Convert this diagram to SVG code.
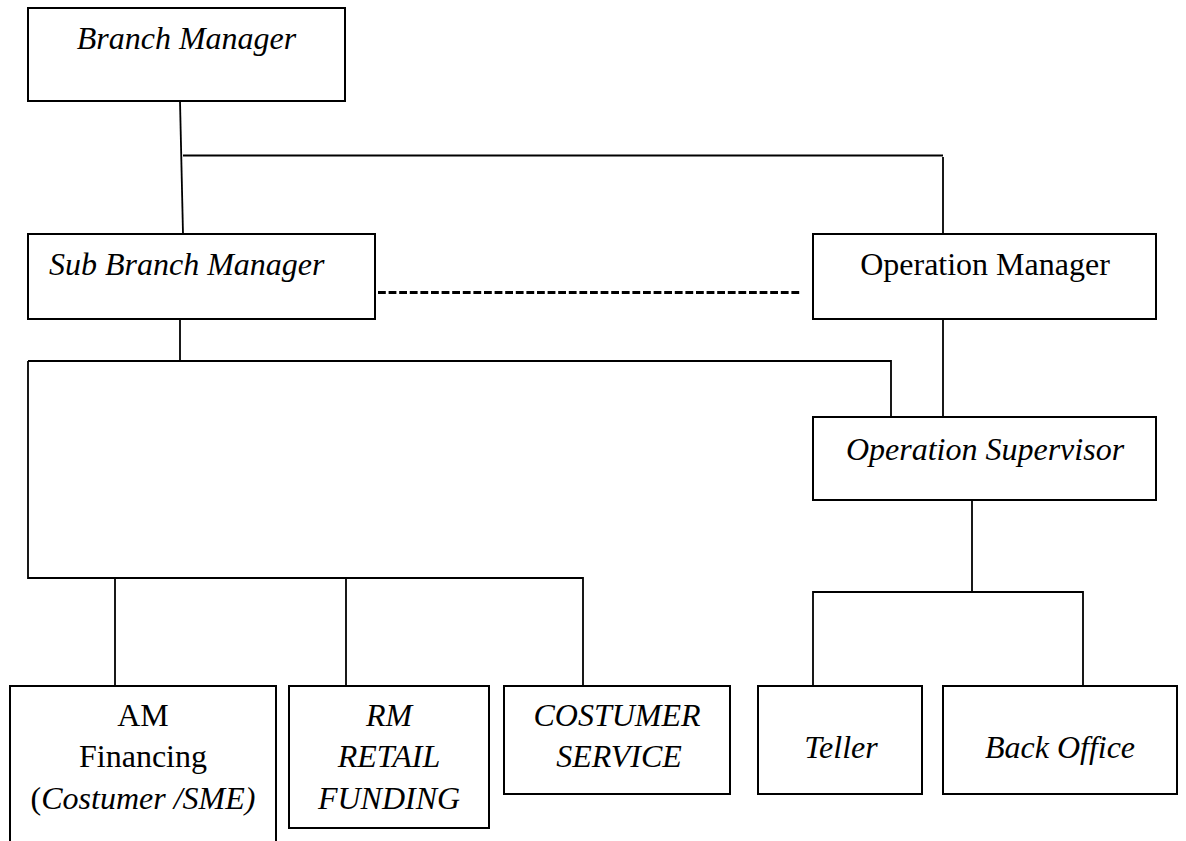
<svg xmlns="http://www.w3.org/2000/svg" width="1186" height="841" viewBox="0 0 1186 841">
<style>
.box{fill:#fff;stroke:#000;stroke-width:2}
.ln{fill:none;stroke:#000;stroke-width:1.8}
.dash{fill:none;stroke:#000;stroke-width:3;stroke-dasharray:7.8 2.8}
text{font-family:"Liberation Serif","Times New Roman",serif;font-size:32px;fill:#000}
.i{font-style:italic}
.c{text-anchor:middle}
</style>
<rect width="1186" height="841" fill="#fff"/>
<g id="connectors">
<path class="ln" d="M180,101 L183,234"/>
<path class="ln" d="M183,155.5 H943"/>
<path class="ln" d="M943,157 V234"/>
<path class="ln" d="M180,319 V361"/>
<path class="ln" d="M28,361 H891 V417"/>
<path class="ln" d="M28,361 V578 H583 V686"/>
<path class="ln" d="M115,578 V686"/>
<path class="ln" d="M346,578 V686"/>
<path class="ln" d="M943,319 V417"/>
<path class="ln" d="M972,500 V592"/>
<path class="ln" d="M813,686 V592 H1083 V686"/>
<path class="dash" d="M378,292.5 H802"/>
</g>
<g id="branch-manager">
<rect class="box" x="28" y="8" width="317" height="93"/>
<text class="i c" x="186.5" y="49">Branch Manager</text>
</g>
<g id="sub-branch-manager">
<rect class="box" x="28" y="234" width="347" height="85"/>
<text class="i" x="49" y="275">Sub Branch Manager</text>
</g>
<g id="operation-manager">
<rect class="box" x="813" y="234" width="343" height="85"/>
<text class="c" x="985" y="275">Operation Manager</text>
</g>
<g id="operation-supervisor">
<rect class="box" x="813" y="417" width="343" height="83"/>
<text class="i c" x="985" y="460">Operation Supervisor</text>
</g>
<g id="am-financing">
<rect class="box" x="10" y="686" width="266" height="170"/>
<text class="c" x="143" y="726">AM</text>
<text class="c" x="143" y="767">Financing</text>
<text class="c" x="143" y="809">(<tspan class="i">Costumer /SME)</tspan></text>
</g>
<g id="rm-retail-funding">
<rect class="box" x="289" y="686" width="200" height="142"/>
<text class="i c" x="389" y="726">RM</text>
<text class="i c" x="389" y="767">RETAIL</text>
<text class="i c" x="389" y="809">FUNDING</text>
</g>
<g id="costumer-service">
<rect class="box" x="504" y="686" width="226" height="108"/>
<text class="i c" x="617" y="726">COSTUMER</text>
<text class="i c" x="619" y="767">SERVICE</text>
</g>
<g id="teller">
<rect class="box" x="758" y="686" width="164" height="108"/>
<text class="i c" x="841" y="758">Teller</text>
</g>
<g id="back-office">
<rect class="box" x="943" y="686" width="234" height="108"/>
<text class="i c" x="1060" y="758">Back Office</text>
</g>
</svg>
